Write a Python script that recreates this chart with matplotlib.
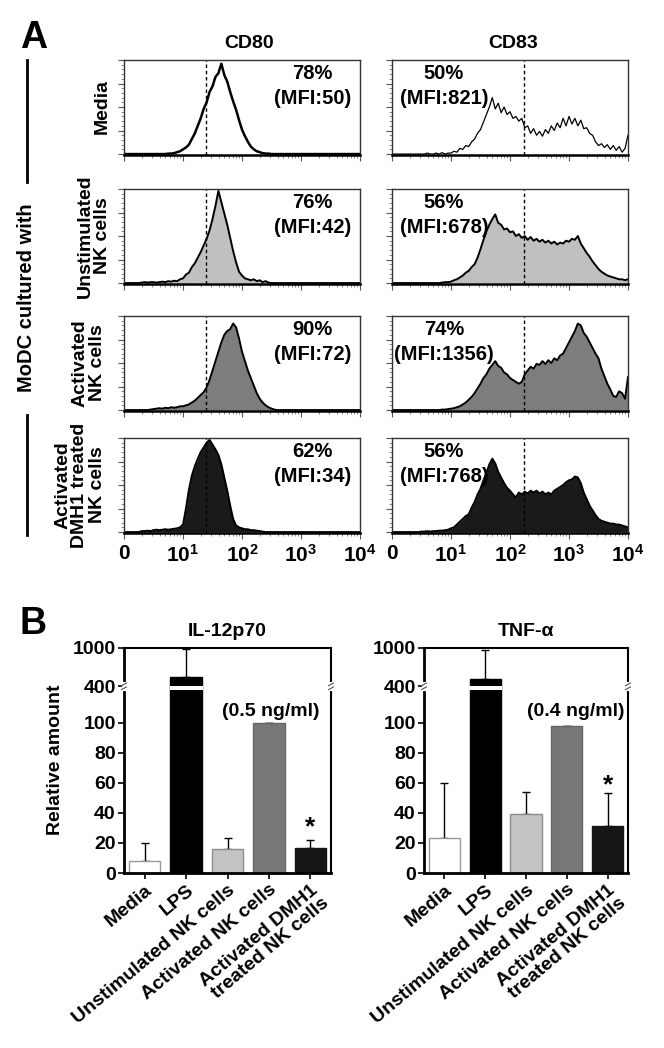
import numpy as np
import matplotlib
matplotlib.use("Agg")
import matplotlib.pyplot as plt
from matplotlib.lines import Line2D

plt.rcParams["font.family"] = ["Liberation Sans", "DejaVu Sans"]
plt.rcParams["font.weight"] = "bold"
plt.rcParams["mathtext.fontset"] = "custom"
plt.rcParams["mathtext.rm"] = "Liberation Sans:bold"
plt.rcParams["mathtext.default"] = "rm"

# ---------------- panel A: flow histograms (0.05-decade channels, % of max)
N_CH = 81
channels = np.arange(N_CH) * 0.05


def pad(lead, vals):
    return np.array([0.0] * lead + vals + [0.0] * (N_CH - lead - len(vals)))


cd80_media = pad(15, [0.5, 0.5, 1, 2, 3, 5, 7, 10, 16, 22, 30, 38, 48, 55, 66, 72, 82, 86, 96,
                      84, 77, 66, 56, 47, 36, 26, 19, 13, 8, 5, 3, 2, 1, 0.5, 0.5])
cd80_unstim = pad(6, [0.5, 1, 0.5, 1, 1, 0.5, 1, 1.5, 1, 2, 1.5, 2.5, 2, 4, 5, 9, 11, 17, 21, 27,
                      33, 40, 47, 56, 68, 82, 98, 86, 74, 62, 48, 34, 22, 12, 8, 5, 4, 3, 4, 2,
                      3, 1, 2, 0.5])
cd80_act = pad(9, [0.5, 1, 1.5, 2, 1.5, 2.5, 2, 3, 2.5, 3, 4, 4, 5, 6, 8, 10, 13, 16, 19, 24,
                   32, 42, 52, 62, 72, 80, 84, 86, 92, 88, 76, 62, 52, 42, 34, 26, 18, 12, 8, 5,
                   3, 1.5, 0.5])
cd80_dmh1 = pad(6, [1, 1, 1.5, 1, 2, 2.5, 2, 2.5, 3, 2.5, 3, 3.5, 4, 5, 8, 25, 45, 60, 70, 78,
                    85, 90, 95, 98, 93, 88, 82, 72, 58, 44, 28, 14, 7, 5, 4, 3, 3, 2, 2, 1.5,
                    1, 0.5])

cd83_media = pad(12, [1, 0, 0, 1, 0, 1.5, 0, 1, 1, 3, 2, 6, 5, 9, 8, 13, 16, 22, 26, 34, 42,
                      50, 60, 48, 54, 44, 50, 42, 45, 38, 40, 35, 38, 28, 30, 22, 27, 20, 24,
                      19, 26, 22, 30, 25, 33, 28, 38, 30, 40, 32, 38, 30, 36, 27, 28, 22, 20,
                      13, 9, 11, 7, 10, 5, 9, 4, 8, 2, 6, 20])
cd83_unstim = pad(17, [0.5, 1, 1, 1.5, 3, 4, 6, 8, 11, 13, 17, 20, 27, 36, 46, 55, 62, 68, 73,
                       64, 62, 57, 58, 54, 55, 50, 52, 48, 50, 46, 49, 45, 47, 44, 46, 43, 45,
                       42, 44, 41, 43, 42, 45, 44, 47, 46, 50, 42, 37, 32, 28, 23, 19, 15, 12,
                       10, 8, 7, 6, 5, 4, 4, 3, 4])
cd83_act = pad(17, [0.5, 0.5, 1, 1.5, 2, 3, 4, 6, 8, 11, 14, 18, 23, 28, 34, 38, 44, 48, 52,
                    47, 45, 40, 38, 34, 32, 30, 28, 30, 38, 42, 46, 44, 49, 48, 52, 49, 53, 50,
                    55, 53, 58, 60, 66, 72, 78, 84, 92, 90, 82, 78, 72, 66, 60, 55, 44, 36, 28,
                    22, 15, 14, 20, 18, 12, 35])
cd83_dmh1 = pad(10, [0.5, 0.5, 1, 0.5, 1, 1, 1.5, 1.5, 2, 2.5, 4, 5, 8, 11, 14, 17, 19, 26, 32,
                     40, 46, 55, 63, 72, 78, 73, 64, 58, 52, 47, 44, 40, 37, 42, 40, 43, 41,
                     44, 42, 44, 41, 43, 40, 42, 40, 44, 46, 48, 50, 53, 55, 56, 59, 58, 52,
                     42, 35, 28, 23, 18, 14, 12, 11, 10, 9, 9, 8, 8, 7, 6, 5])

cd80_hists = [cd80_media, cd80_unstim, cd80_act, cd80_dmh1]
cd83_hists = [cd83_media, cd83_unstim, cd83_act, cd83_dmh1]
row_labels = ["Media", "Unstimulated\nNK cells", "Activated\nNK cells",
              "Activated\nDMH1 treated\nNK cells"]
cd80_pct = ["78%", "76%", "90%", "62%"]
cd80_mfi = ["(MFI:50)", "(MFI:42)", "(MFI:72)", "(MFI:34)"]
cd83_pct = ["50%", "56%", "74%", "56%"]
cd83_mfi = ["(MFI:821)", "(MFI:678)", "(MFI:1356)", "(MFI:768)"]
gates = [1.39, 2.23]
decade_labels = ["0", "$10^1$", "$10^2$", "$10^3$", "$10^4$"]

# ---------------- panel B: relative cytokine amounts
groups = ["Media", "LPS", "Unstimulated NK cells", "Activated NK cells",
          "Activated DMH1\ntreated NK cells"]
il12 = [8, 550, 16, 100, 16.5]
il12_err = [12, 435, 7, 0, 5.5]
tnf = [23, 520, 39, 98, 31]
tnf_err = [37, 450, 15, 0, 22]
bar_colors = ["white", "black", "#c4c4c4", "#777777", "#151515"]
bar_edges = ["#999999", "black", "#8c8c8c", "#666666", "#151515"]
y_ticks = [0, 20, 40, 60, 80, 100, 400, 1000]

W, H = 664, 1048
fig = plt.figure(figsize=(W / 100, H / 100), dpi=100)


def add_box(left, top, w, h):
    return fig.add_axes([left / W, 1 - (top + h) / H, w / W, h / H])


def ftext(x, y, s, **kw):
    fig.text(x / W, 1 - y / H, s, **kw)


col_left = [124, 392]
row_top = [60, 189, 316, 438]
fills = [None, "#c0c0c0", "#7d7d7d", "#1a1a1a"]
minor = [d + np.log10(k) for d in range(4) for k in range(2, 10)]

for r in range(4):
    for c, hists in enumerate([cd80_hists, cd83_hists]):
        ax = add_box(col_left[c], row_top[r], 236, 95)
        y = hists[r]
        if fills[r]:
            ax.fill_between(channels, 0, y, color=fills[r], lw=0)
            ax.plot(channels, y, color="black", lw=1.4)
        else:
            ax.plot(channels, y, color="black", lw=1.8 if c == 0 else 0.9)
        ax.axvline(gates[c], color="black", lw=1, ls=(0, (2.5, 2)))
        ax.set_xlim(0, 4)
        ax.set_ylim(-1, 100)
        ax.set_xticks(range(5))
        ax.set_xticks(minor, minor=True)
        ax.set_yticks([0, 25, 50, 75, 100])
        ax.set_yticks(range(0, 101, 5), minor=True)
        ax.set_yticklabels([])
        if r == 3:
            ax.set_xticklabels(decade_labels, fontsize=15)
        else:
            ax.set_xticklabels([])
        ax.tick_params(which="major", length=4, width=0.8, color="#555555", pad=4)
        ax.tick_params(which="minor", length=2, width=0.6, color="#777777")
        for s in ax.spines.values():
            s.set_linewidth(1.0)
            s.set_color("#333333")
        ax.spines["bottom"].set_linewidth(1.8)
        ax.spines["bottom"].set_color("black")
        if c == 0:
            pct, mfi, tx = cd80_pct[r], cd80_mfi[r], 0.80
        else:
            pct, mfi, tx = cd83_pct[r], cd83_mfi[r], 0.22
        ax.text(tx, 0.86, pct, transform=ax.transAxes, ha="center", va="center", fontsize=14.5)
        ax.text(tx, 0.59, mfi, transform=ax.transAxes, ha="center", va="center", fontsize=14.5)

ftext(20, 38, "A", fontsize=27, ha="left", va="center")
ftext(249, 43, "CD80", fontsize=14, ha="center", va="center")
ftext(513, 43, "CD83", fontsize=14, ha="center", va="center")
label_x = [102, 94, 89, 80]
for r in range(4):
    ftext(label_x[r], row_top[r] + 47, row_labels[r], rotation=90, ha="center", va="center",
          fontsize=14, linespacing=1.0, multialignment="center")
ftext(27, 298, "MoDC cultured with", rotation=90, ha="center", va="center", fontsize=14.5)
fig.add_artist(Line2D([27 / W, 27 / W], [1 - 60 / H, 1 - 182 / H], color="black", lw=2))
fig.add_artist(Line2D([27 / W, 27 / W], [1 - 415 / H, 1 - 535 / H], color="black", lw=2))

# broken y axis: 0-100 linear, then 100-400 and 400-1000 squeezed
brk_v = [0, 100, 400, 1000]
brk_s = [0, 100, 124.2, 149.7]


def fwd(v):
    return np.interp(v, brk_v, brk_s)


def inv(s):
    return np.interp(s, brk_s, brk_v)


ftext(20, 624, "B", fontsize=27, ha="left", va="center")
ftext(56, 760, "Relative amount", rotation=90, ha="center", va="center", fontsize=14)

panels = [(124, 207, "IL-12p70", il12, il12_err, "(0.5 ng/ml)", 0.71, 26),
          (424, 204, "TNF-\u03b1", tnf, tnf_err, "(0.4 ng/ml)", 0.745, 54)]
for left, w, title, vals, errs, conc, cx, star_y in panels:
    ax = add_box(left, 648, w, 225)
    ax.set_yscale("function", functions=(fwd, inv))
    x = np.arange(len(groups))
    ax.bar(x, vals, width=0.76, color=bar_colors, edgecolor=bar_edges, lw=1, zorder=2)
    ax.errorbar(x, vals, yerr=[np.zeros(len(errs)), errs], fmt="none", ecolor="black",
                elinewidth=1, capsize=3, capthick=1, zorder=1)
    s400 = fwd(400)
    gap_lo = inv(s400 - 2.7)
    ax.bar(1, 400 - gap_lo, bottom=gap_lo, width=0.8, color="white", lw=0, zorder=3)
    for xx in (0, 1):
        ax.plot([xx, xx], [inv(s400 - 1.6), inv(s400 + 1.6)], color="white", lw=3,
                transform=ax.get_yaxis_transform(), clip_on=False, zorder=6)
        ax.plot([xx - 0.012, xx + 0.012], [inv(s400 - 2.2), inv(s400 - 0.4)], color="#555555",
                lw=0.8, transform=ax.get_yaxis_transform(), clip_on=False, zorder=7)
        ax.plot([xx - 0.012, xx + 0.012], [inv(s400 + 0.4), inv(s400 + 2.2)], color="#555555",
                lw=0.8, transform=ax.get_yaxis_transform(), clip_on=False, zorder=7)
    ax.set_xlim(-0.5, 4.5)
    ax.set_ylim(0, 1000)
    ax.set_yticks(y_ticks)
    ax.set_yticklabels([str(t) for t in y_ticks], fontsize=14)
    ax.yaxis.set_minor_locator(matplotlib.ticker.NullLocator())
    ax.set_xticks(x)
    ax.set_xticklabels(groups, rotation=40, ha="right", rotation_mode="anchor", fontsize=14,
                       linespacing=1.0)
    ax.tick_params(axis="both", length=4, width=1.2, pad=2)
    for s in ax.spines.values():
        s.set_linewidth(1.5)
    ax.spines["left"].set_linewidth(2)
    ax.spines["bottom"].set_linewidth(2)
    ax.text(4, star_y, "*", ha="center", va="baseline", fontsize=19)
    ax.text(cx, 0.72, conc, transform=ax.transAxes, ha="center", va="center", fontsize=14)
    ax.set_title(title, fontsize=14, pad=9, fontweight="bold")

fig.savefig("out.png", dpi=100)
